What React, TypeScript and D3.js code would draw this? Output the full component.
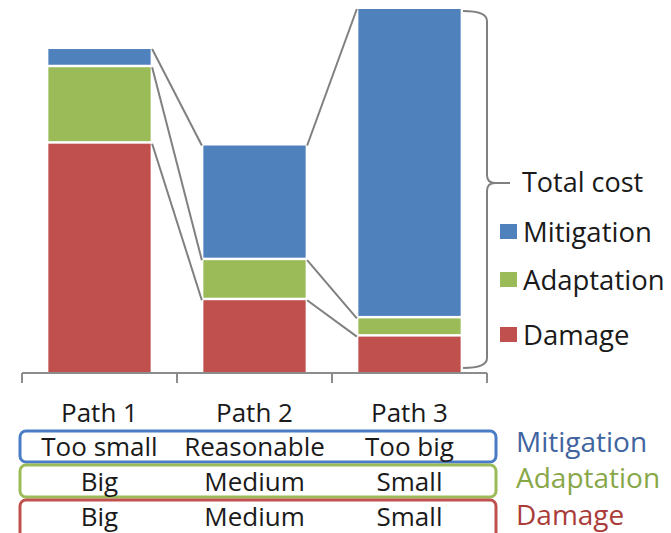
import React, { useEffect, useRef } from 'react';
import * as d3 from 'd3';

const paths = ['Path 1', 'Path 2', 'Path 3'];
const damage = [63, 20, 10];
const adaptation = [21, 11, 5];
const mitigation = [5, 31.5, 85];
const seriesNames = ['Damage', 'Adaptation', 'Mitigation'];
const mitigationLevels = ['Too small', 'Reasonable', 'Too big'];
const adaptationLevels = ['Big', 'Medium', 'Small'];
const damageLevels = ['Big', 'Medium', 'Small'];

const colors: Record<string, string> = {
  Damage: '#c0504d',
  Adaptation: '#9bbb59',
  Mitigation: '#4f81bd',
};
const boxColors: Record<string, string> = {
  Mitigation: '#4a7cc6',
  Adaptation: '#9bbb59',
  Damage: '#c0504d',
};
const labelColors: Record<string, string> = {
  Mitigation: '#41649f',
  Adaptation: '#88a748',
  Damage: '#aa3d3a',
};

const FONT = '"Open Sans", "DejaVu Sans", sans-serif';

const App: React.FC = () => {
  const svgRef = useRef<SVGSVGElement>(null);

  useEffect(() => {
    if (!svgRef.current) return;
    const width = 671;
    const height = 533;

    const svg = d3.select(svgRef.current);
    svg.selectAll('*').remove();
    svg.attr('width', width).attr('height', height);

    const rows = paths.map((p, i) => ({
      path: p,
      Damage: damage[i],
      Adaptation: adaptation[i],
      Mitigation: mitigation[i],
    }));
    const stacked = d3.stack<any>().keys(seriesNames)(rows);

    const x = d3.scaleBand().domain(paths).range([22, 487]).padding(0);
    const y = d3.scaleLinear().domain([0, 100]).range([373, 9]);
    const barW = x.bandwidth() * 0.66;
    const barX = (p: string) => (x(p) as number) + (x.bandwidth() - barW) / 2;
    const cx = (p: string) => (x(p) as number) + x.bandwidth() / 2;

    // connector lines between segment tops
    const gray = '#808080';
    stacked.forEach((layer) => {
      for (let i = 0; i < paths.length - 1; i++) {
        svg.append('line')
          .attr('x1', barX(paths[i]) + barW + 1.5)
          .attr('y1', y(layer[i][1]))
          .attr('x2', barX(paths[i + 1]) - 1.5)
          .attr('y2', y(layer[i + 1][1]))
          .attr('stroke', gray)
          .attr('stroke-width', 2);
      }
    });

    // bars
    stacked.forEach((layer, k) => {
      svg.append('g')
        .selectAll('rect')
        .data(layer)
        .enter()
        .append('rect')
        .attr('x', (d, i) => barX(paths[i]))
        .attr('y', (d) => y(d[1]))
        .attr('width', barW)
        .attr('height', (d) => y(d[0]) - y(d[1]) - (k > 0 ? 2.5 : 0))
        .attr('fill', colors[seriesNames[k]]);
    });

    // x axis
    const axisG = svg.append('g').attr('transform', 'translate(0,373)');
    axisG.append('line')
      .attr('x1', 22).attr('x2', 487)
      .attr('stroke', '#8c8c8c').attr('stroke-width', 2);
    const tickXs = [...paths.map((p) => x(p) as number), x.range()[1]];
    axisG.selectAll('.tick')
      .data(tickXs)
      .enter()
      .append('line')
      .attr('x1', (d) => d).attr('x2', (d) => d)
      .attr('y1', 0).attr('y2', 10)
      .attr('stroke', '#8c8c8c').attr('stroke-width', 2);

    // brace for total cost
    const top = y(100) + 2;
    const bot = y(0) - 5;
    const mid = 183;
    const bx = 487;
    svg.append('path')
      .attr('d',
        `M463,${top} Q${bx},${top} ${bx},${top + 10} L${bx},${mid - 8} Q${bx},${mid} ${bx + 8},${mid} L510,${mid}` +
        ` M${bx + 8},${mid} Q${bx},${mid} ${bx},${mid + 8} L${bx},${bot - 10} Q${bx},${bot} 463,${bot}`)
      .attr('fill', 'none')
      .attr('stroke', gray)
      .attr('stroke-width', 2);

    svg.append('text')
      .attr('x', 522).attr('y', 192)
      .attr('font-family', FONT).attr('font-size', 27)
      .attr('fill', '#1a1a1a')
      .text('Total cost');

    // legend
    const legendItems = ['Mitigation', 'Adaptation', 'Damage'];
    const legendY = [242, 290, 345];
    legendItems.forEach((name, i) => {
      svg.append('rect')
        .attr('x', 500).attr('y', legendY[i] - 18)
        .attr('width', 17).attr('height', 15)
        .attr('fill', colors[name]);
      svg.append('text')
        .attr('x', 523).attr('y', legendY[i])
        .attr('font-family', FONT).attr('font-size', 27.5)
        .attr('fill', '#1a1a1a')
        .text(name);
    });

    // path labels
    svg.selectAll('.pathLabel')
      .data(paths)
      .enter()
      .append('text')
      .attr('x', (d) => cx(d))
      .attr('y', 422)
      .attr('text-anchor', 'middle')
      .attr('font-family', FONT).attr('font-size', 26)
      .attr('fill', '#1a1a1a')
      .text((d) => d);

    // table rows
    const tableRows = [
      { name: 'Mitigation', levels: mitigationLevels, top: 431, bottom: 462, base: 456, side: 452 },
      { name: 'Adaptation', levels: adaptationLevels, top: 465, bottom: 497, base: 491, side: 488 },
      { name: 'Damage', levels: damageLevels, top: 500, bottom: 540, base: 526, side: 525 },
    ];
    tableRows.forEach((r) => {
      svg.append('rect')
        .attr('x', 20).attr('y', r.top)
        .attr('width', 476).attr('height', r.bottom - r.top)
        .attr('rx', 6).attr('ry', 6)
        .attr('fill', 'none')
        .attr('stroke', boxColors[r.name])
        .attr('stroke-width', 3);
      svg.append('g')
        .selectAll('text')
        .data(r.levels)
        .enter()
        .append('text')
        .attr('x', (d, i) => cx(paths[i]))
        .attr('y', r.base)
        .attr('text-anchor', 'middle')
        .attr('font-family', FONT).attr('font-size', 26)
        .attr('fill', '#1a1a1a')
        .text((d) => d);
      svg.append('text')
        .attr('x', 516)
        .attr('y', r.side)
        .attr('font-family', FONT).attr('font-size', 28)
        .attr('fill', labelColors[r.name])
        .text(r.name);
    });
  }, []);

  return (
    <div style={{ position: 'absolute', left: 0, top: 0, width: 671, height: 533, background: '#fff' }}>
      <svg ref={svgRef}></svg>
    </div>
  );
};

export default App;
